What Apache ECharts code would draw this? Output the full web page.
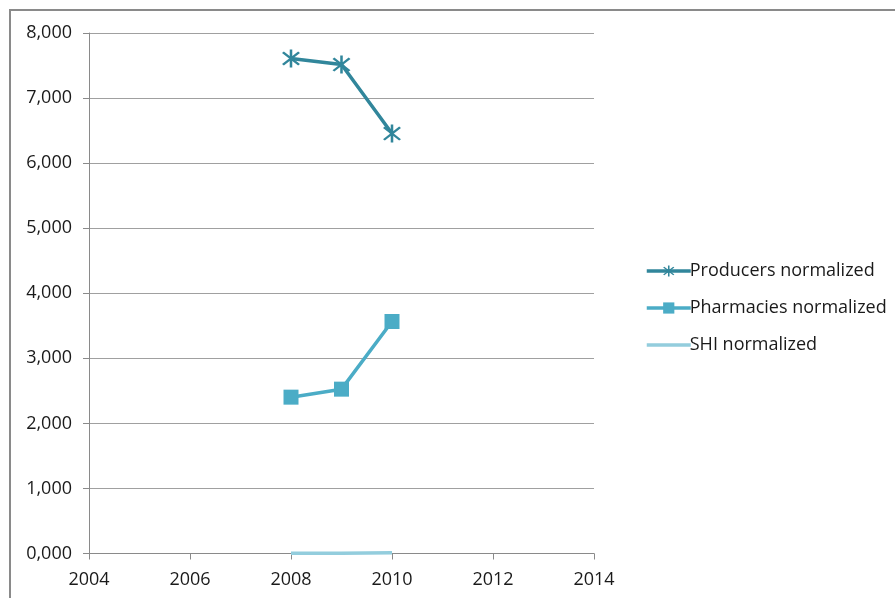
<!DOCTYPE html>
<html>
<head>
<meta charset="utf-8">
<script src="https://cdn.jsdelivr.net/npm/echarts@6/dist/echarts.min.js"></script>
<style>
html,body{margin:0;padding:0;background:#fff;}
#chart{width:895px;height:598px;}
</style>
</head>
<body>
<div id="chart"></div>
<script>
const years = [2008, 2009, 2010];
const producers = [7608, 7515, 6454];
const pharmacies = [2403, 2526, 3566];
const shi = [5, 3, 12];
const seriesNames = ['Producers normalized', 'Pharmacies normalized', 'SHI normalized'];
const yTickLabels = ['0,000', '1,000', '2,000', '3,000', '4,000', '5,000', '6,000', '7,000', '8,000'];

const FONT = '"Open Sans", Lato, sans-serif';
const star = 'path://M8.9,0 L11.1,0 L11.1,20 L8.9,20 Z M3.8,2.2 L17.8,16.2 L16.2,17.8 L2.2,3.8 Z M16.2,2.2 L17.8,3.8 L3.8,17.8 L2.2,16.2 Z';

function pairs(xs, ys) { return xs.map((x, i) => [x, ys[i]]); }

const chart = echarts.init(document.getElementById('chart'), null, {renderer: 'canvas'});
chart.setOption({
  animation: false,
  backgroundColor: '#fff',
  graphic: [{
    type: 'rect',
    shape: {x: 10, y: 10, width: 900, height: 600},
    style: {fill: 'none', stroke: '#8a8a8a', lineWidth: 2},
    silent: true
  }],
  grid: {left: 89, top: 33, right: 301, bottom: 44.5},
  xAxis: {
    type: 'value', min: 2004, max: 2014, interval: 2,
    axisLine: {show: true, lineStyle: {color: '#8a8a8a', width: 1}},
    axisTick: {show: true, inside: false, length: 6, lineStyle: {color: '#8a8a8a'}},
    splitLine: {show: false},
    axisLabel: {margin: 17, color: '#1a1a1a', fontFamily: FONT, fontSize: 18, formatter: v => String(v)}
  },
  yAxis: {
    type: 'value', min: 0, max: 8000, interval: 1000,
    axisLine: {show: true, lineStyle: {color: '#8a8a8a', width: 1}},
    axisTick: {show: true, length: 6, lineStyle: {color: '#8a8a8a'}},
    splitLine: {show: true, lineStyle: {color: '#a0a0a0', width: 1}},
    axisLabel: {margin: 17, color: '#1a1a1a', fontFamily: FONT, fontSize: 18,
      formatter: v => yTickLabels[Math.round(v / 1000)]}
  },
  legend: {
    orient: 'vertical', left: 640, top: 257,
    itemWidth: 44, itemHeight: 14, itemGap: 19,
    textStyle: {color: '#1a1a1a', fontFamily: FONT, fontSize: 18, padding: [0, 0, 0, -6]},
    data: [
      {name: seriesNames[0], lineStyle: {width: 3.5}},
      {name: seriesNames[1], lineStyle: {width: 3.5}},
      {name: seriesNames[2], lineStyle: {width: 3.5}, itemStyle: {opacity: 0}}
    ]
  },
  series: [
    {
      name: seriesNames[0], type: 'line', data: pairs(years, producers),
      symbol: star, symbolSize: 18,
      lineStyle: {color: '#31869B', width: 3.5},
      itemStyle: {color: '#31869B'}
    },
    {
      name: seriesNames[1], type: 'line', data: pairs(years, pharmacies),
      symbol: 'rect', symbolSize: 15,
      lineStyle: {color: '#4BACC6', width: 3.5},
      itemStyle: {color: '#4BACC6'}
    },
    {
      name: seriesNames[2], type: 'line', data: pairs(years, shi),
      symbol: 'none',
      lineStyle: {color: '#93CDDD', width: 3.5},
      itemStyle: {color: '#93CDDD'}
    }
  ]
});
</script>
</body>
</html>
